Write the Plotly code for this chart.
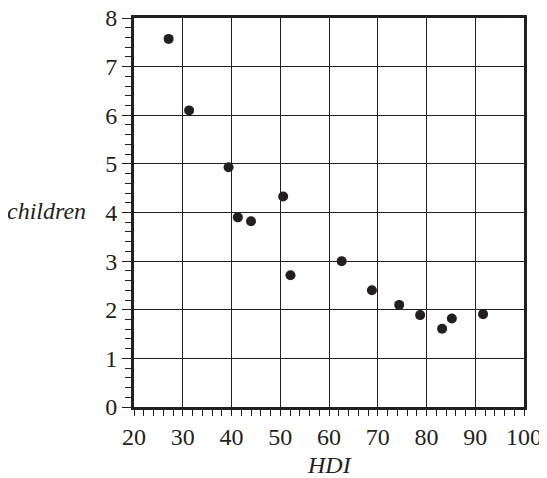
import plotly.graph_objects as go

# HDI vs. average number of children per woman
hdi = [27.1, 31.3, 39.4, 41.3, 44.0, 50.6, 52.1, 62.6, 68.8, 74.4, 78.7, 83.2, 85.2, 91.6]
children = [7.57, 6.10, 4.93, 3.90, 3.82, 4.33, 2.71, 3.00, 2.40, 2.10, 1.89, 1.61, 1.82, 1.91]

x_ticks = list(range(20, 101, 10))
y_ticks = list(range(0, 9))

INK = "#231f20"
SERIF = "Liberation Serif, Times New Roman, Times, serif"

fig = go.Figure(
    go.Scatter(
        x=hdi,
        y=children,
        mode="markers",
        marker=dict(size=10, color=INK),
        hoverinfo="skip",
    )
)

axis_common = dict(
    showline=True,
    linewidth=3,
    linecolor=INK,
    mirror=True,
    showgrid=True,
    gridcolor=INK,
    gridwidth=1.3,
    zeroline=False,
    automargin=False,
    ticklabeloverflow="allow",
    ticks="outside",
    tickwidth=1.3,
    tickcolor=INK,
    tickfont=dict(family=SERIF, size=24, color=INK),
)

fig.update_xaxes(
    range=[20, 100],
    tickvals=x_ticks,
    ticklen=6,
    minor=dict(dtick=2, ticks="outside", ticklen=6, tickwidth=1.2, tickcolor=INK, showgrid=False),
    **axis_common,
)
fig.update_yaxes(
    range=[0, 8],
    tickvals=y_ticks,
    ticklen=9,
    minor=dict(dtick=0.2, ticks="outside", ticklen=6, tickwidth=1.2, tickcolor=INK, showgrid=False),
    **axis_common,
)

fig.add_annotation(
    text="<i>children</i>", x=0, y=4.03, xref="paper", yref="y",
    showarrow=False, font=dict(family=SERIF, size=24, color=INK),
    xanchor="right", yanchor="middle", xshift=-46,
)
fig.add_annotation(
    text="<i>HDI</i>", x=0.5, y=0, xref="paper", yref="paper",
    showarrow=False, font=dict(family=SERIF, size=24, color=INK),
    xanchor="center", yanchor="top", yshift=-43,
)

# page body keeps an 8px margin, so the figure starts at (8, 8) in the window
fig.update_layout(
    width=539,
    height=470,
    margin=dict(l=126, r=23, t=10, b=71),
    paper_bgcolor="white",
    plot_bgcolor="white",
    showlegend=False,
)

fig.write_html("out.html")
